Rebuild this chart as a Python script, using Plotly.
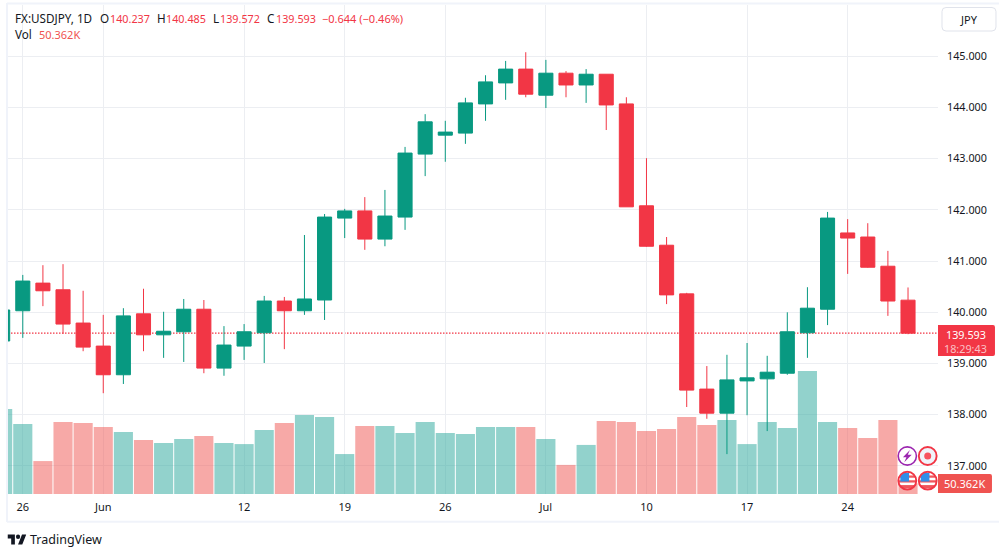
import base64
import plotly.graph_objects as go

dates = ["2023-05-25","2023-05-26","2023-05-29","2023-05-30","2023-05-31","2023-06-01","2023-06-02",
         "2023-06-05","2023-06-06","2023-06-07","2023-06-08","2023-06-09","2023-06-12","2023-06-13",
         "2023-06-14","2023-06-15","2023-06-16","2023-06-19","2023-06-20","2023-06-21","2023-06-22",
         "2023-06-23","2023-06-26","2023-06-27","2023-06-28","2023-06-29","2023-06-30","2023-07-03",
         "2023-07-04","2023-07-05","2023-07-06","2023-07-07","2023-07-10","2023-07-11","2023-07-12",
         "2023-07-13","2023-07-14","2023-07-17","2023-07-18","2023-07-19","2023-07-20","2023-07-21",
         "2023-07-24","2023-07-25","2023-07-26","2023-07-27"]
opens = [139.44,140.03,140.57,140.44,139.79,139.34,138.78,139.97,139.56,139.62,140.06,138.91,139.34,139.60,
         140.22,140.03,140.24,141.84,141.98,141.43,141.86,143.09,143.46,143.50,144.07,144.48,144.75,144.24,
         144.67,144.44,144.65,144.07,142.08,141.31,140.36,138.50,138.03,138.66,138.70,138.81,139.60,140.06,
         141.55,141.47,140.90,140.237]
highs = [140.10,140.73,140.92,140.94,140.42,139.95,140.08,140.46,140.01,140.26,140.24,139.73,139.77,140.32,
         140.30,141.51,141.92,142.02,142.25,142.39,143.23,143.87,143.74,144.19,144.63,144.91,145.08,144.93,
         144.71,144.75,144.65,144.20,143.01,141.47,140.38,138.95,139.17,139.40,139.15,140.00,140.49,141.96,
         141.82,141.74,141.20,140.485]
lows = [139.40,139.50,140.12,139.58,139.24,138.42,138.60,139.24,139.11,139.03,138.81,138.76,139.07,139.01,
        139.28,139.95,139.85,141.45,141.22,141.29,141.61,142.66,142.94,143.29,143.74,144.15,144.20,143.99,
        144.20,144.09,143.56,142.06,141.28,140.16,138.15,137.92,137.23,137.99,137.68,138.78,139.11,139.75,
        140.75,140.87,139.93,139.572]
closes = [140.045,140.61,140.42,139.77,139.32,138.78,139.93,139.56,139.63,140.06,138.91,139.36,139.62,140.22,
          140.03,140.26,141.86,141.98,141.43,141.88,143.11,143.72,143.52,144.09,144.50,144.75,144.26,144.67,
          144.44,144.65,144.05,142.06,141.29,140.34,138.48,138.03,138.68,138.72,138.83,139.62,140.08,141.84,
          141.45,140.88,140.22,139.593]
volumes_k = [400,329,155,339,334,315,292,254,240,259,273,240,235,301,334,372,362,188,320,320,287,339,287,282,
             315,315,315,259,137,231,344,339,297,306,362,325,348,235,339,311,579,339,311,264,348,50.362]

tick_positions = [1,5,12,17,22,27,32,37,42]
tick_labels = ["26","Jun","12","19","26","Jul","10","17","24"]
price_ticks = [137,138,139,140,141,142,143,144,145]

UP = "#089981"; DOWN = "#f23645"
VOL_UP = "rgba(38,166,154,0.5)"; VOL_DOWN = "rgba(239,83,80,0.5)"
GRID = "#eceef2"; FRAME = "#f0f3fa"; INK = "#131722"; FONT = "Noto Sans"

L, R, T, B = 7.5, 938.0, 5.0, 494.0
def X(p): return (p - L) / (R - L)
def Y(p): return (B - p) / (B - T)

idx = list(range(len(dates)))
vol_colors = [VOL_UP if c >= o else VOL_DOWN for o, c in zip(opens, closes)]

fig = go.Figure()
fig.add_trace(go.Bar(x=idx, y=volumes_k, marker=dict(color=vol_colors, line_width=0), yaxis="y",
                     customdata=dates, showlegend=False))
fig.add_trace(go.Candlestick(x=idx, open=opens, high=highs, low=lows, close=closes, yaxis="y2",
                             whiskerwidth=0, showlegend=False,
                             increasing=dict(fillcolor=UP, line=dict(color=UP, width=1)),
                             decreasing=dict(fillcolor=DOWN, line=dict(color=DOWN, width=1))))

def svg(body, vb="0 0 24 24"):
    s = f'<svg xmlns="http://www.w3.org/2000/svg" viewBox="{vb}">{body}</svg>'
    return "data:image/svg+xml;base64," + base64.b64encode(s.encode()).decode()

flag = svg('<clipPath id="c"><circle cx="12" cy="12" r="10"/></clipPath>'
           '<circle cx="12" cy="12" r="10.4" fill="#fff"/>'
           '<g clip-path="url(#c)"><rect x="0" y="6" width="24" height="2.6" fill="#f0565c"/>'
           '<rect x="0" y="11.5" width="24" height="2.6" fill="#f0565c"/>'
           '<rect x="0" y="17" width="24" height="4" fill="#f0565c"/>'
           '<rect x="4" y="3" width="10" height="10" fill="#2f8fe8"/></g>'
           '<circle cx="12" cy="12" r="10.2" fill="none" stroke="#f23645" stroke-width="2.2"/>')
bolt = svg('<circle cx="12" cy="12" r="10.4" fill="#fff" stroke="#9c27b0" stroke-width="1.8"/>'
           '<path d="M15 5 L7 13.5 H11 L8.5 19 L17 10.5 H12.5 Z" fill="#9c27b0"/>')
dot = svg('<circle cx="12" cy="12" r="10.2" fill="#f0f3fa" stroke="#f23645" stroke-width="2.2"/>'
          '<circle cx="12" cy="12" r="4" fill="#f7525f"/>')
logo = svg('<path d="M14 22H7V11H0V4h14v18zM28 22h-8l7.5-18h8L28 22z" fill="#131722"/>'
           '<circle cx="20" cy="8" r="4" fill="#131722"/>', "0 3 36 20")

def icon(src, cx, cy, r=10.5):
    return dict(source=src, xref="paper", yref="paper", x=X(cx - r), y=Y(cy - r),
                sizex=2 * r / (R - L), sizey=2 * r / (B - T), sizing="stretch",
                xanchor="left", yanchor="top", layer="above")

images = [icon(bolt, 907.3, 456), icon(dot, 927.7, 456), icon(flag, 907.3, 480.7), icon(flag, 927.7, 480.7),
          dict(source=logo, xref="paper", yref="paper", x=X(7), y=Y(534), sizex=19 / (R - L), sizey=11 / (B - T),
               sizing="stretch", xanchor="left", yanchor="top", layer="above")]

def text(s, px, py, color=INK, size=11, anchor="left"):
    # annotations carry about 2px of padding on the left
    dx = -2 if anchor == "left" else 0
    return dict(text=s, x=X(px + dx), y=Y(py), xref="paper", yref="paper", xanchor=anchor, yanchor="middle",
                showarrow=False, font=dict(family=FONT, size=size, color=color))

RED_TXT = "#f23645"
last = closes[-1]
NUM = 10.8
LBL = 11.7
annots = [
    text("FX:USDJPY, 1D", 15, 18, size=LBL), text("O", 100, 18, size=LBL), text(f"{opens[-1]:.3f}", 110, 18, RED_TXT, NUM),
    text("H", 157, 18, size=LBL), text(f"{highs[-1]:.3f}", 166, 18, RED_TXT, NUM),
    text("L", 213, 18, size=LBL), text(f"{lows[-1]:.3f}", 220, 18, RED_TXT, NUM),
    text("C", 267, 18, size=LBL), text(f"{last:.3f}", 276, 18, RED_TXT, NUM),
    text("−0.644 (−0.46%)", 322, 18, RED_TXT),
    text("Vol", 15, 34, size=LBL), text("50.362K", 39, 34, "#ef5350", 11),
    text("JPY", 969, 19.5, anchor="center"),
    text(f"{last:.3f}", 966, 334, "#ffffff", NUM, anchor="center"),
    text("18:29:43", 966, 348, "rgba(255,255,255,0.7)", NUM, anchor="center"),
    text("50.362K", 965, 483.5, "#ffffff", 11, anchor="center"),
    text("TradingView", 30, 539.5, INK, 12.5),
]

def rounded(x0, y0, x1, y1, r, fill):
    path = (f"M {X(x0)} {Y(y0)} L {X(x1 - r)} {Y(y0)} Q {X(x1)} {Y(y0)} {X(x1)} {Y(y0 + r)} "
            f"L {X(x1)} {Y(y1 - r)} Q {X(x1)} {Y(y1)} {X(x1 - r)} {Y(y1)} L {X(x0)} {Y(y1)} Z")
    return dict(type="path", path=path, xref="paper", yref="paper", fillcolor=fill, line_width=0, layer="above")

def frame(x0, y0, x1, y1):
    return dict(type="line", x0=X(x0), y0=Y(y0), x1=X(x1), y1=Y(y1), xref="paper", yref="paper",
                line=dict(color=FRAME, width=2), layer="below")

shapes = [
    frame(6.5, 3.5, 999, 3.5), frame(6.5, 3, 6.5, 522), frame(6.5, 521.7, 999, 521.7),
    dict(type="line", xref="paper", yref="y2", x0=0, x1=1, y0=last, y1=last, layer="below",
         line=dict(color=DOWN, width=1.2, dash="1.5px,1.5px")),
    rounded(938, 325, 995, 356, 2, DOWN), rounded(938, 474, 992, 493, 2, "#ef5350"),
    dict(type="path", xref="paper", yref="paper", layer="above", fillcolor="rgba(0,0,0,0)",
         line=dict(color="#e0e3eb", width=1),
         path=(f"M {X(946)} {Y(7.5)} L {X(992)} {Y(7.5)} Q {X(996)} {Y(7.5)} {X(996)} {Y(11.5)} "
               f"L {X(996)} {Y(27)} Q {X(996)} {Y(31)} {X(992)} {Y(31)} L {X(946)} {Y(31)} "
               f"Q {X(942)} {Y(31)} {X(942)} {Y(27)} L {X(942)} {Y(11.5)} Q {X(942)} {Y(7.5)} {X(946)} {Y(7.5)} Z")),
]

fig.update_layout(
    width=999, height=556, autosize=False,
    margin=dict(l=L, r=999 - R, t=T, b=556 - B, pad=0),
    paper_bgcolor="#ffffff", plot_bgcolor="#ffffff",
    bargap=0.05, boxgap=0.3, boxgroupgap=0, showlegend=False, dragmode=False,
    xaxis=dict(range=[0.265, 46.49], tickmode="array", tickvals=tick_positions, ticktext=tick_labels,
               showgrid=True, gridcolor=GRID, gridwidth=1, zeroline=False, showline=False, ticks="",
               ticklabelstandoff=5, tickfont=dict(family=FONT, size=11, color=INK),
               rangeslider=dict(visible=False)),
    yaxis=dict(range=[0, 2302], visible=False, showgrid=False, zeroline=False),
    yaxis2=dict(range=[136.451, 146.002], overlaying="y", side="right", anchor="x", tickmode="array",
                tickvals=price_ticks, ticktext=[f"{v:.3f}" for v in price_ticks],
                showgrid=True, gridcolor=GRID, gridwidth=1, zeroline=False, showline=False, ticks="",
                ticklabelstandoff=8, tickfont=dict(family=FONT, size=NUM, color=INK)),
    annotations=annots, shapes=shapes, images=images,
)

fig.write_html("out.html", config={"displayModeBar": False},
               post_script="document.body.style.margin='0';")
